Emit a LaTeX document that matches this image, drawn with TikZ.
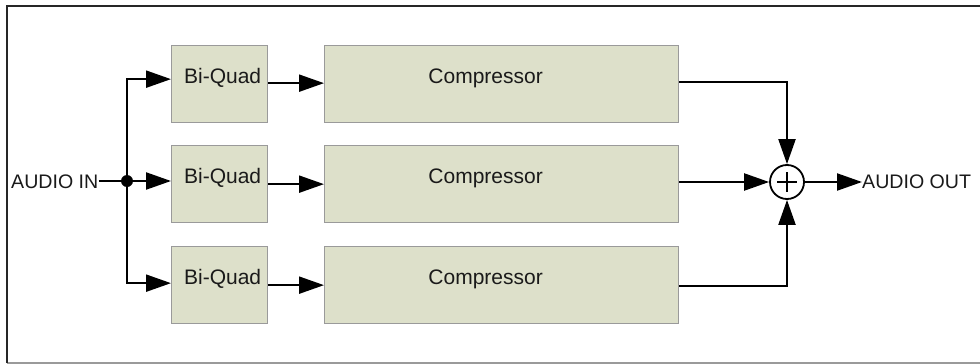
\documentclass[tikz,border=0pt]{standalone}
\usepackage{fontspec}
\setmainfont{Liberation Sans}
\usetikzlibrary{arrows.meta,calc}
\definecolor{boxfill}{HTML}{DDE0CA}
\definecolor{boxline}{HTML}{9A9A9A}
\definecolor{txt}{HTML}{1A1A1A}
\begin{document}
\begin{tikzpicture}[x=1pt,y=-1pt,
  blk/.style={draw=boxline,line width=1.3pt,fill=boxfill,inner sep=0pt,anchor=north west},
  lbl/.style={text=txt,font=\fontsize{21}{24}\selectfont,inner sep=0pt},
  io/.style={text=txt,font=\fontsize{19.6}{22}\selectfont,inner sep=0pt},
  wire/.style={line width=2.2pt,black},
  arr/.style={wire,-{Triangle[length=25pt,width=17pt]}}
]
\useasboundingbox (0,0) rectangle (980,364);
\fill[white] (0,0) rectangle (980,364);
% frame
\draw[line width=1.2pt,boxline] (7,363) -- (982,363);
\draw[line width=2pt,black!85] (7,363) -- (7,6) -- (982,6);
% boxes
\foreach \r/\y in {1/45,2/145,3/246}{
  \node[blk,minimum width=96pt,minimum height=77pt] (bq\r) at (171,\y) {};
  \node[blk,minimum width=354pt,minimum height=77pt] (cp\r) at (324,\y) {};
  \node[lbl] (bqt\r) at ($(bq\r.center)+(3,-6.5)$) {Bi-Quad};
  \node[lbl] (cpt\r) at ($(cp\r.center)+(-16,-6)$) {Compressor};
}
% input
\node[io,anchor=west] (in) at (11,182) {AUDIO IN};
\coordinate (j) at (127,181);
\draw[wire] (in.east |- j) -- (j);
\fill (j) circle (6pt);
\draw[arr] (j) -- (j -| bq2.west);
\draw[arr] (j) |- ($(bq1.west)+(0,-5)$);
\draw[arr] (j) |- ($(bq3.west)+(0,-2)$);
% biquad to compressor
\draw[arr] ($(bq1.east)+(0,-1)$) -- ($(cp1.west)+(0,-1)$);
\draw[arr] ($(bq2.east)+(0,0)$) -- ($(cp2.west)+(0,0)$);
\draw[arr] ($(bq3.east)+(0,0)$) -- ($(cp3.west)+(0,0)$);
% summer
\node[draw,circle,line width=1.8pt,minimum size=34pt,inner sep=0pt] (sum) at (787,182) {};
\draw[line width=1.5pt] ($(sum.center)+(-10,0)$) -- ($(sum.center)+(10,0)$);
\draw[line width=1.5pt] ($(sum.center)+(0,-10)$) -- ($(sum.center)+(0,10)$);
\draw[arr] ($(cp1.east)+(0,-2.5)$) -| (sum.north);
\draw[arr] (cp2.east |- sum.west) -- (sum.west);
\draw[arr] ($(cp3.east)+(0,0.5)$) -| (sum.south);
\node[io,anchor=west] (out) at (862,182) {AUDIO OUT};
\draw[arr] (sum.east) -- (out.west);
\end{tikzpicture}
\end{document}
